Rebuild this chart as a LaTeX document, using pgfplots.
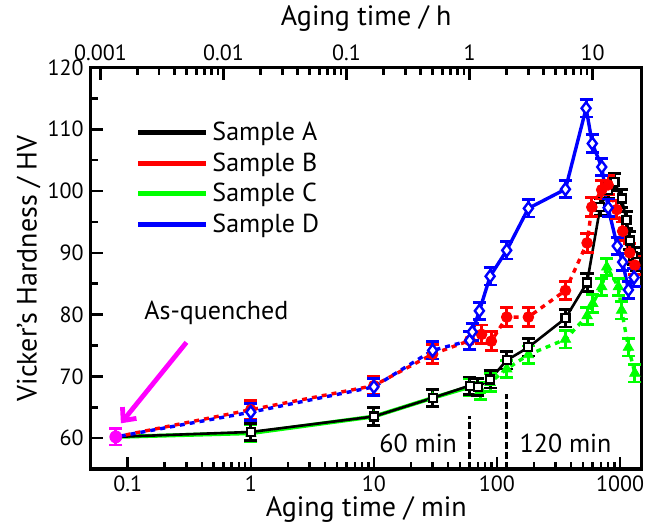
\documentclass[border=0pt]{standalone}
\usepackage{fontspec}
\setmainfont{PT Sans}
\usepackage{pgfplots}
\usepackage{pgfplotstable}
\pgfplotsset{compat=1.18}
\usetikzlibrary{arrows.meta}

\definecolor{cA}{RGB}{0,0,0}
\definecolor{cB}{RGB}{255,0,0}
\definecolor{cC}{RGB}{0,255,0}
\definecolor{cD}{RGB}{0,0,255}
\definecolor{cQ}{RGB}{255,0,255}

% aging time (min) vs Vickers hardness (HV)
\pgfplotstableread{
t hv
0.08 60.2
1 61.0
10 63.5
30 66.5
60 68.5
70 68.3
88 69.5
120 72.6
180 74.7
360 79.4
540 85.2
690 97.4
800 100.2
900 101.5
1030 98.8
1130 95.3
1200 92.0
1280 89.5
1360 88.5
}\sampleA
\pgfplotstableread{
t hv
0.08 60.2
1 64.6
10 68.5
30 73.6
60 75.8
75 76.8
90 75.7
120 79.6
180 79.6
360 83.9
540 91.6
590 97.4
710 100.2
800 101.0
940 97.0
1050 93.5
1200 90.0
1320 88.0
}\sampleB
\pgfplotstableread{
t hv
0.08 60.2
1 60.8
10 63.5
30 66.5
60 68.3
}\sampleCearly
\pgfplotstableread{
t hv
60 68.3
73 67.7
88 69.0
120 71.2
180 73.5
360 76.0
540 79.8
600 81.8
710 84.5
780 87.7
970 84.5
1030 80.7
1170 74.7
1320 70.5
}\sampleClate
\pgfplotstableread{
t hv
0.08 60.2
1 64.2
10 68.3
30 74.2
60 75.8
}\sampleDearly
\pgfplotstableread{
t hv
60 75.8
63 77.2
72 80.6
88 86.2
120 90.4
180 97.2
360 100.3
530 113.4
595 107.7
710 103.9
800 97.3
950 91.1
1050 88.5
1170 84.0
1300 86.0
}\sampleDlate

\begin{document}
\begin{tikzpicture}
\pgfplotsset{
  every axis/.append style={
    scale only axis, width=275.5pt, height=200.75pt,
    xmode=log, tick align=inside,
    axis line style={line width=1.6pt},
    major tick length=6pt, minor tick length=3.5pt,
    every tick/.style={black, line width=1.3pt},
    tick label style={font=\fontsize{11}{13}\selectfont},
    label style={font=\fontsize{14}{16}\selectfont},
    /pgf/number format/assume math mode=true,
  },
}
\begin{axis}[
    xmin=0.05, xmax=1500, ymin=55, ymax=120,
    xtick={0.1,1,10,100,1000}, xticklabels={0.1,1,10,100,1000},
    ytick={60,70,...,120}, minor ytick={65,75,...,115},
    xtick pos=left, ytick pos=left,
    xlabel={Aging time / min}, ylabel={Vicker's Hardness / HV},
    xlabel style={at={(axis description cs:0.5,-0.102)}, anchor=center},
    ylabel style={at={(axis description cs:-0.1125,0.5)}, anchor=center},
    legend style={at={(axis description cs:0.07,0.885)}, anchor=north west,
      draw=none, fill=none, font=\fontsize{13}{15}\selectfont, row sep=0.5pt},
    legend cell align=left,
    legend image code/.code={\draw[#1] (0pt,0pt) -- (34pt,0pt);},
]
% lines
\addplot[forget plot, cC, line width=2pt] table {\sampleCearly};
\addplot[forget plot, cC, line width=1.7pt, dash pattern=on 2.5pt off 2.5pt] table {\sampleClate};
\addplot[forget plot, cA, line width=1.3pt] table {\sampleA};
\addplot[forget plot, cB, line width=1.7pt, dash pattern=on 2.5pt off 2.5pt] table {\sampleB};
\addplot[forget plot, cD, line width=1.7pt, dash pattern=on 2.5pt off 2.5pt, dash phase=2.5pt] table {\sampleDearly};
\addplot[forget plot, cD, line width=1.7pt] table {\sampleDlate};
% marks with error bars
\addplot[forget plot, only marks, cC, mark=triangle*, mark size=3pt,
  skip coords between index={0}{1},
  error bars/.cd, y dir=both, y fixed=1.4, error bar style={line width=1.4pt},
  error mark options={rotate=90, mark size=3.3pt, line width=1.4pt}] table {\sampleCearly};
\addplot[forget plot, only marks, cC, mark=triangle*, mark size=3pt,
  skip coords between index={0}{1},
  error bars/.cd, y dir=both, y fixed=1.4, error bar style={line width=1.4pt},
  error mark options={rotate=90, mark size=3.3pt, line width=1.4pt}] table {\sampleClate};
\addplot[forget plot, only marks, cA, mark=square*, mark size=2pt,
  mark options={fill=white, line width=1.1pt},
  skip coords between index={0}{1},
  error bars/.cd, y dir=both, y fixed=1.4, error bar style={line width=1.4pt},
  error mark options={rotate=90, mark size=3.3pt, line width=1.4pt}] table {\sampleA};
\addplot[forget plot, only marks, cB, mark=*, mark size=2.7pt,
  skip coords between index={0}{1},
  error bars/.cd, y dir=both, y fixed=1.5, error bar style={line width=1.4pt},
  error mark options={rotate=90, mark size=3.3pt, line width=1.4pt}] table {\sampleB};
\addplot[forget plot, only marks, cD, mark=diamond*, mark size=3pt,
  mark options={fill=white, line width=1.2pt},
  skip coords between index={0}{1},
  error bars/.cd, y dir=both, y fixed=1.4, error bar style={line width=1.4pt},
  error mark options={rotate=90, mark size=3.3pt, line width=1.4pt}] table {\sampleDearly};
\addplot[forget plot, only marks, cD, mark=diamond*, mark size=3pt,
  mark options={fill=white, line width=1.2pt},
  skip coords between index={0}{1},
  error bars/.cd, y dir=both, y fixed=1.4, error bar style={line width=1.4pt},
  error mark options={rotate=90, mark size=3.3pt, line width=1.4pt}] table {\sampleDlate};
% as-quenched
\addplot[forget plot, only marks, cQ, mark=*, mark size=3pt,
  error bars/.cd, y dir=both, y fixed=1.3, error bar style={line width=1.4pt},
  error mark options={rotate=90, mark size=3.3pt, line width=1.4pt}]
  coordinates {(0.08,60.2)};
% 60 min / 120 min markers
\addplot[forget plot, black, line width=1.5pt, dash pattern=on 3.5pt off 1.5pt] coordinates {(60,55) (60,63.6)};
\addplot[forget plot, black, line width=1.5pt, dash pattern=on 3.5pt off 1.5pt] coordinates {(120,55) (120,67.2)};
\draw[cQ, line width=2.4pt, -{Straight Barb[length=5pt,width=9pt]}] (axis cs:0.3,75.5) -- (axis cs:0.088,62.4);
\node[font=\fontsize{13}{15}\selectfont] at (axis cs:0.525,80.2) {As-quenched};
\node[font=\fontsize{13}{15}\selectfont, anchor=east] at (axis cs:54,59.1) {60 min};
\node[font=\fontsize{13}{15}\selectfont, anchor=west] at (axis cs:134,59.1) {120 min};
% legend
\addlegendimage{cA, line width=2.4pt}\addlegendentry{Sample A}
\addlegendimage{cB, line width=2.4pt}\addlegendentry{Sample B}
\addlegendimage{cC, line width=2.4pt}\addlegendentry{Sample C}
\addlegendimage{cD, line width=2.4pt}\addlegendentry{Sample D}
\end{axis}
\begin{axis}[
    xmin=0.05/60, xmax=1500/60, ymin=55, ymax=120,
    axis x line*=top, axis y line=none,
    xtick={0.001,0.01,0.1,1,10}, xticklabels={0.001,0.01,0.1,1,10},
    xlabel={Aging time / h},
    xlabel style={at={(axis description cs:0.5,1.122)}, anchor=center},
]
\addplot[draw=none, forget plot] coordinates {(0.01,60) (1,60)};
\end{axis}
\pgfresetboundingbox
\useasboundingbox (-45.35pt,-30.5pt) rectangle (282.65pt,234.5pt);
\end{tikzpicture}
\end{document}
